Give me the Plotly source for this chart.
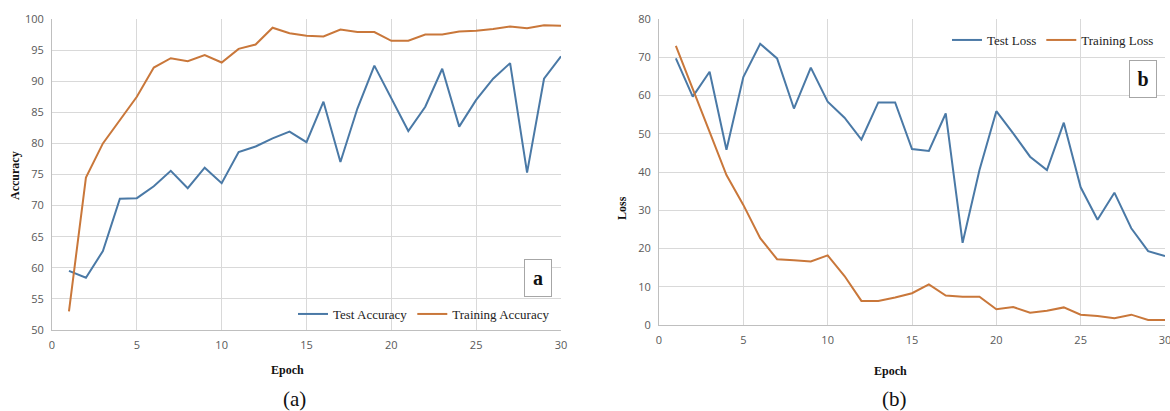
import plotly.graph_objects as go

W, H = 1170, 411

epochs = list(range(1, 31))
test_acc = [59.5, 58.4, 62.7, 71.1, 71.2, 73.1, 75.6, 72.8, 76.1, 73.6,
            78.6, 79.5, 80.8, 81.9, 80.2, 86.7, 77.0, 85.6, 92.5, 87.3,
            82.0, 85.9, 92.0, 82.7, 87.0, 90.4, 92.9, 75.3, 90.4, 94.0]
train_acc = [53.0, 74.5, 80.0, 83.7, 87.5, 92.2, 93.7, 93.2, 94.2, 93.0,
             95.2, 95.9, 98.6, 97.7, 97.3, 97.2, 98.3, 97.9, 97.9, 96.5,
             96.5, 97.5, 97.5, 98.0, 98.1, 98.4, 98.8, 98.5, 99.0, 98.9]
test_loss = [69.7, 59.7, 66.2, 45.8, 64.8, 73.5, 69.7, 56.6, 67.3, 58.4,
             54.2, 48.5, 58.2, 58.2, 46.0, 45.5, 55.3, 21.5, 40.5, 55.9,
             50.1, 44.0, 40.5, 52.9, 36.0, 27.5, 34.6, 25.3, 19.3, 18.0]
train_loss = [73.0, 62.0, 50.5, 39.2, 31.4, 22.7, 17.2, 16.9, 16.6, 18.2,
              12.8, 6.3, 6.3, 7.2, 8.3, 10.6, 7.7, 7.4, 7.4, 4.1,
              4.7, 3.2, 3.7, 4.6, 2.7, 2.35, 1.8, 2.7, 1.3, 1.3]

x_ticks = [0, 5, 10, 15, 20, 25, 30]
acc_ticks = [50, 55, 60, 65, 70, 75, 80, 85, 90, 95, 100]
loss_ticks = [0, 10, 20, 30, 40, 50, 60, 70, 80]

BLUE = "#4a79a6"
ORANGE = "#c9773a"
GRID = "#d9d9d9"
TICKC = "#595959"
SERIF = "Liberation Serif"
SANS = "Open Sans"


def px(x):
    return x / W


def py(y):
    return 1 - y / H


fig = go.Figure()
fig.add_trace(go.Scatter(x=epochs, y=test_acc, mode="lines", name="Test Accuracy",
                         line=dict(color=BLUE, width=2), xaxis="x", yaxis="y", legend="legend"))
fig.add_trace(go.Scatter(x=epochs, y=train_acc, mode="lines", name="Training Accuracy",
                         line=dict(color=ORANGE, width=2), xaxis="x", yaxis="y", legend="legend"))
fig.add_trace(go.Scatter(x=epochs, y=test_loss, mode="lines", name="Test Loss",
                         line=dict(color=BLUE, width=2), xaxis="x2", yaxis="y2", legend="legend2"))
fig.add_trace(go.Scatter(x=epochs, y=train_loss, mode="lines", name="Training Loss",
                         line=dict(color=ORANGE, width=2), xaxis="x2", yaxis="y2", legend="legend2"))

axis_common = dict(showgrid=True, gridcolor=GRID, gridwidth=1, zeroline=False,
                   showline=True, linecolor="#bfbfbf", linewidth=1,
                   ticks="outside", ticklen=5, tickcolor="rgba(0,0,0,0)",
                   tickfont=dict(family=SANS, size=11, color=TICKC), fixedrange=True,
                   automargin=False, ticklabeloverflow="allow")

fig.update_layout(
    width=W, height=H,
    autosize=False,
    margin=dict(l=0, r=0, t=0, b=0, pad=0),
    paper_bgcolor="white", plot_bgcolor="white",
    showlegend=True,
    xaxis=dict(domain=[px(52), px(561)], anchor="y", range=[0, 30], tickvals=x_ticks, **axis_common),
    yaxis=dict(domain=[py(330), py(19)], anchor="x", range=[50, 100], tickvals=acc_ticks, **axis_common),
    xaxis2=dict(domain=[px(659), px(1165)], anchor="y2", range=[0, 30], tickvals=x_ticks, **axis_common),
    yaxis2=dict(domain=[py(325), py(19)], anchor="x2", range=[0, 80], tickvals=loss_ticks, **axis_common),
    legend=dict(orientation="h", x=px(555), xanchor="right", y=py(314), yanchor="middle",
                bgcolor="rgba(255,255,255,0)", font=dict(family=SERIF, size=13, color="#222"),
                itemwidth=30),
    legend2=dict(orientation="h", x=px(1159), xanchor="right", y=py(40), yanchor="middle",
                 bgcolor="rgba(255,255,255,0)", font=dict(family=SERIF, size=13, color="#222"),
                 itemwidth=30),
)

annots = [
    dict(text="<b>Epoch</b>", x=px(287), y=py(370)),
    dict(text="<b>Epoch</b>", x=px(890), y=py(371)),
    dict(text="(a)", x=px(294), y=py(399), size=21),
    dict(text="(b)", x=px(895), y=py(399), size=21),
    dict(text="<b>Accuracy</b>", x=px(15), y=py(176), angle=-90),
    dict(text="<b>Loss</b>", x=px(622), y=py(208), angle=-90),
]
for a in annots:
    fig.add_annotation(xref="paper", yref="paper", x=a["x"], y=a["y"], text=a["text"],
                       showarrow=False, textangle=a.get("angle", 0),
                       xanchor="center", yanchor="middle",
                       font=dict(family=SERIF, size=a.get("size", 12), color="#111"))

for lbl, cx, cy in [("a", 538, 278), ("b", 1143, 79)]:
    fig.add_annotation(xref="paper", yref="paper", x=px(cx), y=py(cy), text="<b>%s</b>" % lbl,
                       showarrow=False, xanchor="center", yanchor="middle",
                       width=22, height=32, bgcolor="white", bordercolor="#a6a6a6",
                       borderwidth=1, borderpad=2,
                       font=dict(family=SERIF, size=20, color="#111"))

fig.write_html("out.html",
               config={"displayModeBar": False},
               post_script="document.body.style.margin='0';document.body.style.overflow='hidden';")
